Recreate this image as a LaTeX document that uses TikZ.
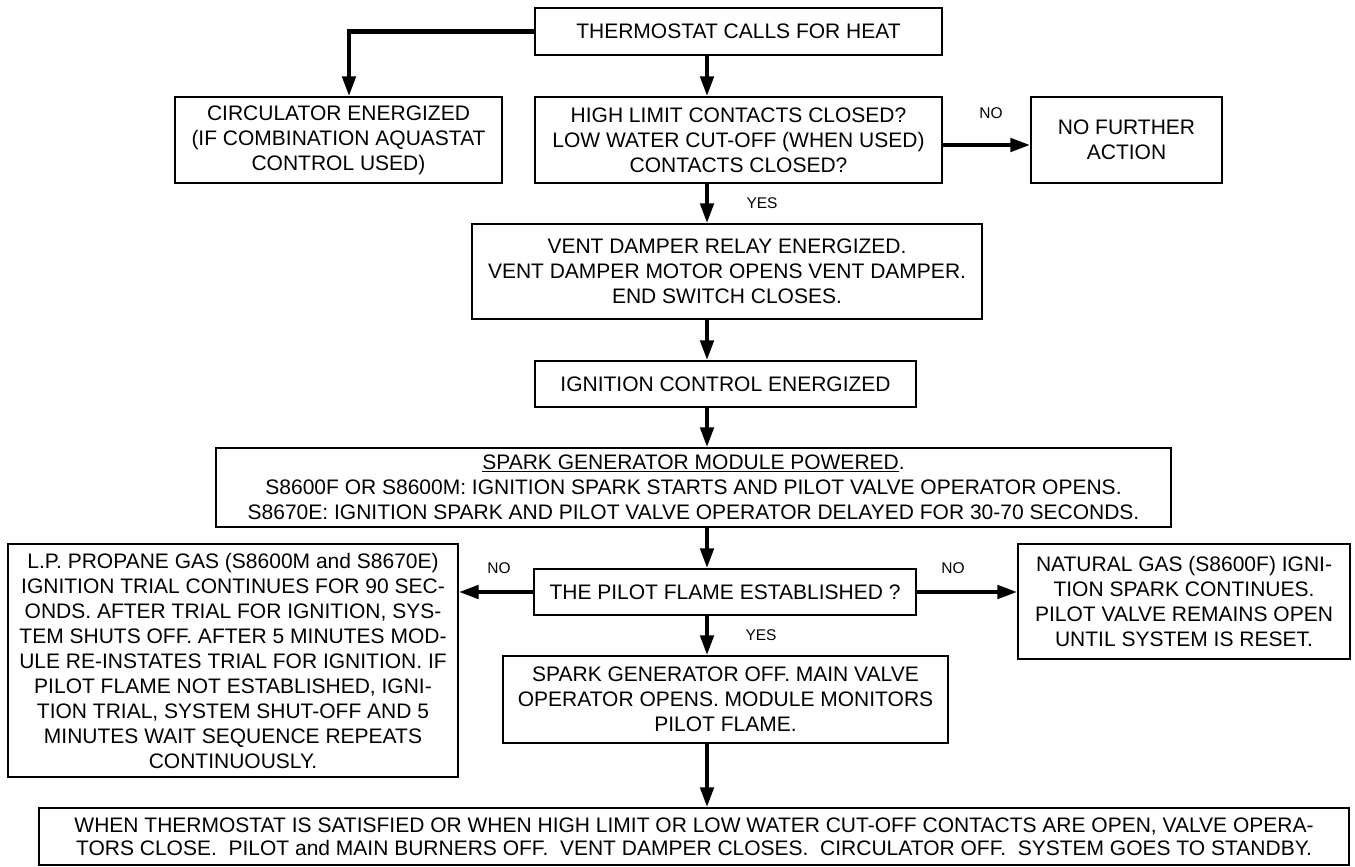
\documentclass[tikz,border=0pt]{standalone}
\usepackage{fontspec}
\setmainfont{Liberation Sans}
\usetikzlibrary{arrows.meta}

\begin{document}
\begin{tikzpicture}[x=1pt, y=-1pt,
	every node/.style = {align=center, font=\fontsize{21}{25}\selectfont},
	box/.style = {shape=rectangle, draw, line width=1.2pt, inner sep=0pt},
	flow/.style = {line width=4.5pt, -{Triangle[length=20pt, width=13pt]}},
	lbl/.style = {font=\fontsize{15.5}{18}\selectfont, inner sep=0pt}]
	\useasboundingbox (0,0) rectangle (1355,867);
	\coordinate (spine) at (707,0);
	\coordinate (circ in) at (349,0);

	\node[box, minimum width=407pt, minimum height=47pt] (therm) at (738.5,31.5)
		{THERMOSTAT CALLS FOR HEAT};
	\node[box, minimum width=327pt, minimum height=86pt] (circ) at (338.5,140)
		{CIRCULATOR ENERGIZED\\(IF COMBINATION AQUASTAT\\CONTROL USED)};
	\node[box, minimum width=407pt, minimum height=86pt] (limit) at (738.5,140)
		{HIGH LIMIT CONTACTS CLOSED?\\LOW WATER CUT-OFF (WHEN USED)\\CONTACTS CLOSED?};
	\node[box, minimum width=191pt, minimum height=86pt] (nofurther) at (1126.5,140)
		{NO FURTHER\\ACTION};
	\node[box, minimum width=510pt, minimum height=95pt] (vent) at (727,271.5)
		{VENT DAMPER RELAY ENERGIZED.\\VENT DAMPER MOTOR OPENS VENT DAMPER.\\END SWITCH CLOSES.};
	\node[box, minimum width=381pt, minimum height=46pt] (ignition) at (725.5,384)
		{IGNITION CONTROL ENERGIZED};
	\node[box, minimum width=955pt, minimum height=79pt] (spark) at (693.5,487.5)
		{\underline{SPARK GENERATOR MODULE POWERED}.\\
		S8600F OR S8600M: IGNITION SPARK STARTS AND PILOT VALVE OPERATOR OPENS.\\
		S8670E: IGNITION SPARK AND PILOT VALVE OPERATOR DELAYED FOR 30-70 SECONDS.};
	\node[box, minimum width=382pt, minimum height=46pt] (pilot) at (725,592)
		{THE PILOT FLAME ESTABLISHED ?};
	\node[box, minimum width=450pt, minimum height=233pt] (propane) at (233,660.5)
		{L.P. PROPANE GAS (S8600M and S8670E)\\IGNITION TRIAL CONTINUES FOR 90 SEC-\\
		ONDS. AFTER TRIAL FOR IGNITION, SYS-\\TEM SHUTS OFF. AFTER 5 MINUTES MOD-\\
		ULE RE-INSTATES TRIAL FOR IGNITION. IF\\PILOT FLAME NOT ESTABLISHED, IGNI-\\
		TION TRIAL, SYSTEM SHUT-OFF AND 5\\MINUTES WAIT SEQUENCE REPEATS\\CONTINUOUSLY.};
	\node[box, minimum width=332pt, minimum height=115pt] (natgas) at (1184,601.5)
		{NATURAL GAS (S8600F) IGNI-\\TION SPARK CONTINUES.\\PILOT VALVE REMAINS OPEN\\UNTIL SYSTEM IS RESET.};
	\node[box, minimum width=445pt, minimum height=87pt] (sparkoff) at (725.5,699.5)
		{SPARK GENERATOR OFF. MAIN VALVE\\OPERATOR OPENS. MODULE MONITORS\\PILOT FLAME.};
	\node[box, minimum width=1310pt, minimum height=57pt,
		font=\fontsize{21}{23}\selectfont] (standby) at (694,836.5)
		{WHEN THERMOSTAT IS SATISFIED OR WHEN HIGH LIMIT OR LOW WATER CUT-OFF CONTACTS ARE OPEN, VALVE OPERA-\\
		TORS CLOSE.\ \ PILOT and MAIN BURNERS OFF.\ \ VENT DAMPER CLOSES.\ \ CIRCULATOR OFF.\ \ SYSTEM GOES TO STANDBY.};

	% connectors
	\draw[flow] (therm.west) -| (circ.north -| circ in);
	\draw[flow] (therm.south -| spine) -- (limit.north -| spine);
	\draw[flow] ([yshift=-5pt]limit.east) -- ([yshift=-5pt]nofurther.west);
	\draw[flow] (limit.south -| spine) -- (vent.north -| spine);
	\draw[flow] (vent.south -| spine) -- (ignition.north -| spine);
	\draw[flow] (ignition.south -| spine) -- (spark.north -| spine);
	\draw[flow] (spark.south -| spine) -- (pilot.north -| spine);
	\draw[flow] (pilot.west) -- (propane.east |- pilot.west);
	\draw[flow] (pilot.east) -- (natgas.west |- pilot.east);
	\draw[flow] (pilot.south -| spine) -- (sparkoff.north -| spine);
	\draw[flow] (sparkoff.south -| spine) -- (standby.north -| spine);

	% labels
	\node[lbl] (no top) at (991,113) {NO};
	\node[lbl] (yes top) at (762,203) {YES};
	\node[lbl] (no left) at (499,568) {NO};
	\node[lbl] (no right) at (953,568) {NO};
	\node[lbl] (yes pilot) at (761,635) {YES};
\end{tikzpicture}
\end{document}
